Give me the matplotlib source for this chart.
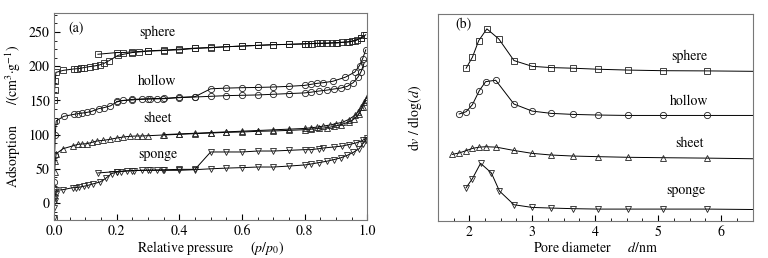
import numpy as np
import matplotlib
matplotlib.use("Agg")
import matplotlib.pyplot as plt
from matplotlib.ticker import MultipleLocator

plt.rcParams['font.family'] = ['STIXGeneral', 'DejaVu Serif']
plt.rcParams['mathtext.fontset'] = 'stix'
plt.rcParams['font.size'] = 10

# (a) N2 isotherms: adsorption / desorption branches
sphere_ads_p = [0.0005, 0.001, 0.002, 0.004, 0.006, 0.03, 0.063, 0.074, 0.085, 0.095, 0.114, 0.13, 0.146, 0.159,
                0.175, 0.205, 0.25, 0.3, 0.35, 0.4, 0.45, 0.5, 0.55, 0.6, 0.65, 0.7, 0.75, 0.8, 0.81, 0.824, 0.84,
                0.856, 0.872, 0.888, 0.904, 0.92, 0.936, 0.952, 0.968, 0.979, 0.99]
sphere_ads_v = [120, 150, 165, 178, 191, 194, 196, 196.4, 197, 198, 199.5, 200.5, 202, 204, 208, 216, 220, 222, 223,
                224, 226, 227, 228.5, 229.5, 230.5, 231.5, 232, 232.5, 233, 233, 233.5, 233.5, 233.5, 234, 234, 235,
                235.5, 237, 239, 241, 245]
sphere_des_p = [0.995, 0.98, 0.96, 0.94, 0.9, 0.85, 0.8, 0.75, 0.7, 0.65, 0.6, 0.55, 0.5, 0.45, 0.4, 0.35, 0.3,
                0.27, 0.25, 0.22, 0.2, 0.14]
sphere_des_v = [246, 241, 237, 235.5, 234.5, 233.5, 233, 232, 231.5, 230.5, 229.5, 228.5, 227.5, 226.5, 225, 223.5,
                222.5, 221.5, 221, 220, 220, 217.5]

hollow_ads_p = [0.0005, 0.001, 0.002, 0.004, 0.007, 0.031, 0.063, 0.077, 0.09, 0.105, 0.12, 0.143, 0.16, 0.18, 0.2,
                0.219, 0.248, 0.28, 0.306, 0.33, 0.349, 0.4, 0.45, 0.5, 0.55, 0.6, 0.65, 0.7, 0.75, 0.8, 0.82, 0.845,
                0.87, 0.893, 0.915, 0.936, 0.955, 0.97, 0.98, 0.99]
hollow_ads_v = [-22, 30, 70, 100, 120, 126.7, 129.6, 130.6, 131.5, 132.5, 134, 138, 139.5, 142, 147.7, 150, 150.6,
                151.6, 152, 152.3, 152.5, 154, 155, 156, 157, 157.5, 158, 159, 160, 161, 162, 163.7, 165, 166.7,
                168, 170.6, 176, 184, 192, 205]
hollow_des_p = [0.995, 0.985, 0.975, 0.96, 0.93, 0.89, 0.86, 0.84, 0.82, 0.8, 0.75, 0.7, 0.65, 0.6, 0.55, 0.5,
                0.45, 0.4, 0.35, 0.3, 0.25, 0.2]
hollow_des_v = [224, 211, 201, 191.5, 184, 178, 176, 175, 173.5, 172, 170.6, 169.6, 169, 168.6, 168, 167, 155.5,
                154.5, 153, 152.5, 151.5, 148.5]

sheet_ads_p = [0.0005, 0.001, 0.002, 0.004, 0.007, 0.029, 0.06, 0.077, 0.09, 0.105, 0.12, 0.136, 0.157, 0.178, 0.2,
               0.221, 0.242, 0.264, 0.28, 0.301, 0.347, 0.4, 0.45, 0.5, 0.55, 0.6, 0.65, 0.7, 0.75, 0.8, 0.82, 0.845,
               0.87, 0.893, 0.915, 0.941, 0.958, 0.974, 0.985, 0.995]
sheet_ads_v = [5, 25, 45, 62, 72, 79.4, 83.5, 85.8, 86.3, 86.7, 88.5, 90.6, 91.6, 93, 95, 96.5, 97.5, 98, 98, 98.4,
               99.4, 100.4, 101.4, 102.3, 103.3, 103.8, 104.8, 105.3, 106.2, 107.2, 108, 109, 110, 112, 114.5,
               118.4, 123, 130.6, 140, 150]
sheet_des_p = [0.998, 0.99, 0.98, 0.97, 0.96, 0.94, 0.92, 0.9, 0.88, 0.86, 0.84, 0.82, 0.8, 0.75, 0.7, 0.65, 0.6,
               0.55, 0.5, 0.45, 0.4, 0.35]
sheet_des_v = [155, 148, 140, 133, 128, 122, 118, 116, 114, 112.5, 111, 110, 109, 108, 107, 106, 105, 104, 103, 102,
               101, 100]

sponge_ads_p = [0.0005, 0.001, 0.002, 0.003, 0.005, 0.007, 0.029, 0.06, 0.07, 0.08, 0.095, 0.11, 0.125, 0.147, 0.165,
                0.184, 0.2, 0.215, 0.232, 0.255, 0.28, 0.306, 0.33, 0.349, 0.4, 0.45, 0.5, 0.55, 0.6, 0.65, 0.7, 0.75,
                0.8, 0.82, 0.845, 0.87, 0.893, 0.915, 0.936, 0.955, 0.974, 0.985, 0.995]
sponge_ads_v = [-22, -8, 3, 8, 13, 18.5, 19.5, 22.4, 22.6, 23, 24.4, 26, 28, 30.7, 36, 43, 45, 46, 46.8, 47.2, 47.8,
                47.8, 47.8, 47.8, 47.8, 48.7, 50, 51, 51.7, 52.6, 52.6, 54, 55.6, 57, 59, 61, 63.4, 66, 69.7, 74,
                79.4, 86.7, 91.6]
sponge_des_p = [0.999, 0.985, 0.963, 0.94, 0.92, 0.893, 0.86, 0.845, 0.82, 0.8, 0.75, 0.7, 0.65, 0.6, 0.55, 0.5,
                0.45, 0.4, 0.35, 0.3, 0.25, 0.2, 0.14]
sponge_des_v = [95.5, 91.6, 87.7, 85.3, 83.3, 81.9, 80.4, 79.4, 78, 78, 77, 76, 76, 74.6, 74.6, 74.6, 49.2, 49.2,
                48.5, 48, 47.5, 46, 43.9]

# (b) pore size distribution (offset curves, arbitrary units)
sphere_d = [1.95, 2.05, 2.15, 2.28, 2.47, 2.71, 3.0, 3.3, 3.65, 4.05, 4.52, 5.08, 5.78, 6.5]
sphere_psd = [73.8, 79.1, 87.1, 92.8, 87.9, 77.5, 74.7, 74.1, 73.8, 73.3, 72.9, 72.6, 72.5, 72.3]
hollow_d = [1.84, 1.95, 2.05, 2.16, 2.26, 2.42, 2.71, 3.0, 3.3, 3.65, 4.05, 4.52, 5.08, 5.78, 6.5]
hollow_psd = [51.7, 52.8, 56.2, 63.0, 67.3, 68.0, 56.5, 53.1, 52.0, 51.5, 51.2, 51.0, 51.0, 51.0, 51.0]
sheet_d = [1.73, 1.84, 1.95, 2.05, 2.16, 2.26, 2.43, 2.71, 3.0, 3.3, 3.65, 4.05, 4.52, 5.08, 5.78, 6.5]
sheet_psd = [32.2, 32.9, 34.0, 35.1, 35.7, 35.9, 35.7, 34.1, 32.7, 31.9, 31.4, 31.1, 30.8, 30.6, 30.4, 30.1]
sponge_d = [1.95, 2.05, 2.18, 2.35, 2.48, 2.71, 3.0, 3.3, 3.65, 4.05, 4.52, 5.08, 5.78, 6.5]
sponge_psd = [16.1, 20.5, 27.9, 23.3, 14.5, 7.9, 6.6, 6.3, 6.0, 5.8, 5.8, 5.8, 5.8, 5.6]

names = ['sphere', 'hollow', 'sheet', 'sponge']
markers = ['s', 'o', '^', 'v']

fig = plt.figure(figsize=(7.68, 2.58), dpi=100)
ax1 = fig.add_axes([0.0703, 0.147, 0.408, 0.803])
ax2 = fig.add_axes([0.570, 0.143, 0.410, 0.803])

sty = dict(color='k', lw=0.7, mfc='none', mec='#222222', mew=0.6, ms=4.5)

iso = [(sphere_ads_p, sphere_ads_v, sphere_des_p, sphere_des_v),
       (hollow_ads_p, hollow_ads_v, hollow_des_p, hollow_des_v),
       (sheet_ads_p, sheet_ads_v, sheet_des_p, sheet_des_v),
       (sponge_ads_p, sponge_ads_v, sponge_des_p, sponge_des_v)]
for (ap, av, dp, dv), m in zip(iso, markers):
    ax1.plot(ap, av, marker=m, **sty)
    ax1.plot(dp, dv, marker=m, **sty)

ax1.set_xlim(0, 1.0)
ax1.set_ylim(-25, 278)
ax1.xaxis.set_major_locator(MultipleLocator(0.2))
ax1.xaxis.set_minor_locator(MultipleLocator(0.05))
ax1.yaxis.set_major_locator(MultipleLocator(50))
ax1.yaxis.set_minor_locator(MultipleLocator(12.5))
ax1.set_xticks([0, 0.2, 0.4, 0.6, 0.8, 1.0], ['0.0', '0.2', '0.4', '0.6', '0.8', '1.0'])
ax1.set_xlabel('Relative pressure     ($p/p_0$)', labelpad=1)
ax1.set_ylabel('Adsorption      /(cm$^3$·g$^{-1}$)', labelpad=4)
ax1.text(0.045, 257, '(a)', ha='left', va='center')
for name, (x, y) in zip(names, [(0.33, 249), (0.33, 178), (0.33, 124), (0.33, 71)]):
    ax1.text(x, y, name, ha='center', va='center')

psd = [(sphere_d, sphere_psd), (hollow_d, hollow_psd), (sheet_d, sheet_psd), (sponge_d, sponge_psd)]
for (d, v), m in zip(psd, markers):
    ax2.plot(d, v, color='k', lw=0.7)
    ax2.plot(d[:-1], v[:-1], ls='none', marker=m, mfc='none', mec='#222222', mew=0.6, ms=4.5)

ax2.set_xlim(1.5, 6.5)
ax2.set_ylim(0, 100)
ax2.xaxis.set_major_locator(MultipleLocator(1))
ax2.xaxis.set_minor_locator(MultipleLocator(0.25))
ax2.set_yticks([])
ax2.set_xlabel('Pore diameter     $d$/nm', labelpad=1)
ax2.set_ylabel('d$v$ / dlog($d$)', labelpad=10)
ax2.text(1.78, 94.7, '(b)', ha='left', va='center')
for name, (x, y) in zip(names, [(5.49, 79.4), (5.49, 58), (5.5, 37.5), (5.44, 14.7)]):
    ax2.text(x, y, name, ha='center', va='center')

for ax in (ax1, ax2):
    for s in ax.spines.values():
        s.set_color('#777777')
        s.set_linewidth(0.8)
    ax.tick_params(which='both', direction='in', top=False, right=False, pad=3, labelsize=10)
    ax.tick_params(which='major', length=4)
    ax.tick_params(which='minor', length=2)

fig.savefig('out.png', dpi=100)
